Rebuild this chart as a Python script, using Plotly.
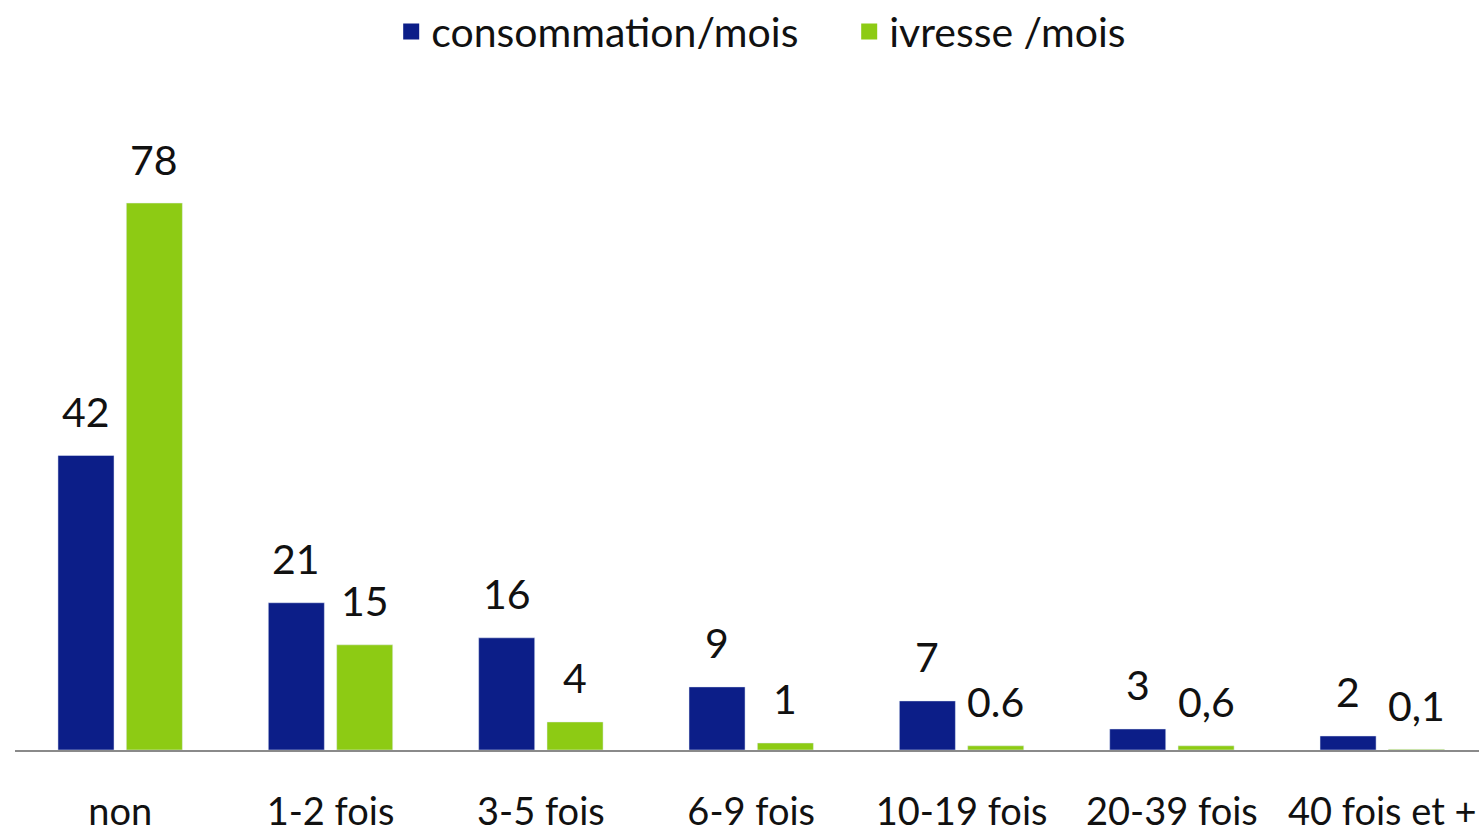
import plotly.graph_objects as go

categories = ["non", "1-2 fois", "3-5 fois", "6-9 fois", "10-19 fois", "20-39 fois", "40 fois et +"]
conso = [42, 21, 16, 9, 7, 3, 2]
ivresse = [78, 15, 4, 1, 0.6, 0.6, 0.1]
conso_labels = ["42", "21", "16", "9", "7", "3", "2"]
ivresse_labels = ["78", "15", "4", "1", "0.6", "0,6", "0,1"]
series_names = ["consommation/mois", "ivresse /mois"]

BLUE = "#0C1E88"
GREEN = "#8DCB14"
FONT = "Lato"

fig = go.Figure()
fig.add_trace(go.Bar(x=categories, y=conso, name=series_names[0], marker_color=BLUE, showlegend=False))
fig.add_trace(go.Bar(x=categories, y=ivresse, name=series_names[1], marker_color=GREEN, showlegend=False))
# legend entries (square swatches)
for nm, col in zip(series_names, [BLUE, GREEN]):
    fig.add_trace(go.Scatter(x=[None], y=[None], mode="markers", name=nm,
                             marker=dict(symbol="square", size=20, color=col)))

annotations = []
for cat, v, t in zip(categories, conso, conso_labels):
    annotations.append(dict(x=cat, y=v, text=t, showarrow=False, xshift=-34.2, yshift=44,
                            yanchor="middle", font=dict(size=41, color="#111111", family=FONT)))
for cat, v, t in zip(categories, ivresse, ivresse_labels):
    annotations.append(dict(x=cat, y=v, text=t, showarrow=False, xshift=34.2, yshift=44,
                            yanchor="middle", font=dict(size=41, color="#111111", family=FONT)))

fig.update_layout(
    width=1479,
    height=836,
    autosize=False,
    barmode="group",
    bargap=0.35,
    bargroupgap=0.18,
    plot_bgcolor="white",
    paper_bgcolor="white",
    margin=dict(l=15, r=0, t=189, b=86),
    font=dict(family=FONT, size=39, color="#111111"),
    showlegend=True,
    legend=dict(orientation="h", xref="container", yref="container", x=0.2645, xanchor="left",
                y=0.962, yanchor="middle", itemsizing="trace",
                font=dict(size=41, family=FONT, color="#111111"), entrywidth=413,
                bgcolor="rgba(0,0,0,0)"),
    annotations=annotations,
    xaxis=dict(range=[-0.5, 6.46], showline=True, linecolor="#8a8a8a", linewidth=2,
               ticks="", ticklabelstandoff=27, automargin=False,
               tickfont=dict(size=38, family=FONT, color="#111111"),
               showgrid=False, zeroline=False),
    yaxis=dict(range=[0, 80], visible=False, showgrid=False, zeroline=False, automargin=False),
)

fig.write_html("out.html", config={"displayModeBar": False},
               post_script="document.body.style.margin='0';document.body.style.overflow='hidden';")
